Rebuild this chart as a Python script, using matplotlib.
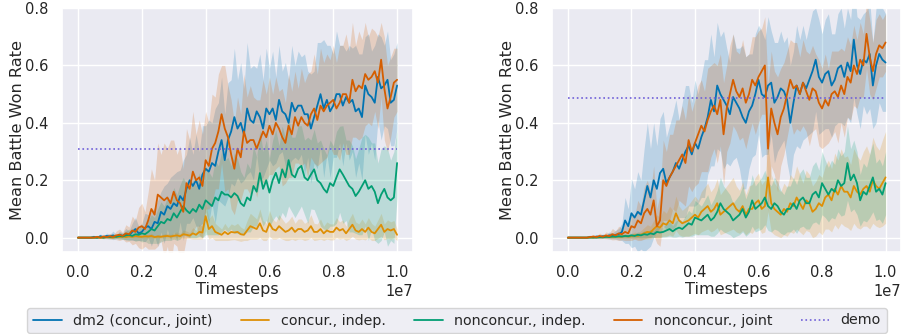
import matplotlib
matplotlib.use("Agg")
import matplotlib.pyplot as plt
import numpy as np
import seaborn as sns

# x grid: 101 evaluation points from 0 to 1e7 timesteps
steps = np.linspace(0, 1e7, 101)

labels = ["dm2 (concur., joint)", "concur., indep.", "nonconcur., indep.", "nonconcur., joint"]

# ---- left panel ----
left_dm2 = [0, 0, 0, 0, 0, 0.003, 0.0, 0.005, 0.002, 0.006,
            0.004, 0.008, 0.003, 0.01, 0.006, 0.012, 0.008, 0.02, 0.03, 0.015,
            0.02, 0.035, 0.04, 0.03, 0.055, 0.05, 0.09, 0.08, 0.11, 0.1,
            0.12, 0.11, 0.145, 0.13, 0.17, 0.2, 0.18, 0.2, 0.17, 0.22,
            0.24, 0.23, 0.26, 0.25, 0.3, 0.34, 0.27, 0.34, 0.37, 0.42,
            0.38, 0.4, 0.36, 0.45, 0.41, 0.4, 0.44, 0.42, 0.38, 0.45,
            0.43, 0.45, 0.41, 0.48, 0.44, 0.43, 0.4, 0.47, 0.44, 0.46,
            0.46, 0.43, 0.43, 0.38, 0.42, 0.46, 0.5, 0.45, 0.48, 0.44,
            0.46, 0.5, 0.5, 0.46, 0.49, 0.47, 0.48, 0.44, 0.45, 0.42,
            0.53, 0.5, 0.49, 0.47, 0.56, 0.52, 0.53, 0.55, 0.47, 0.48,
            0.53]
left_dm2_sd = [0, 0, 0, 0, 0, 0.002, 0.003, 0.008, 0.004, 0.01,
               0.008, 0.015, 0.006, 0.012, 0.01, 0.02, 0.015, 0.03, 0.04, 0.025,
               0.03, 0.05, 0.04, 0.06, 0.05, 0.08, 0.07, 0.1, 0.08, 0.11,
               0.1, 0.12, 0.09, 0.14, 0.12, 0.15, 0.11, 0.16, 0.13, 0.17,
               0.15, 0.18, 0.14, 0.2, 0.17, 0.22, 0.16, 0.2, 0.18, 0.24,
               0.17, 0.21, 0.16, 0.23, 0.18, 0.2, 0.15, 0.22, 0.17, 0.21,
               0.16, 0.2, 0.15, 0.19, 0.14, 0.18, 0.15, 0.2, 0.16, 0.19,
               0.17, 0.21, 0.15, 0.19, 0.16, 0.22, 0.18, 0.24, 0.19, 0.23,
               0.18, 0.22, 0.17, 0.21, 0.16, 0.2, 0.18, 0.23, 0.19, 0.22,
               0.17, 0.21, 0.16, 0.2, 0.15, 0.18, 0.14, 0.17, 0.15, 0.16,
               0.15]
left_ci = [0, 0, 0, 0, 0, 0, 0, 0, 0, 0.002,
           0.001, 0, 0.003, 0.002, 0.004, 0.002, 0.005, 0.003, 0.006, 0.004,
           0.003, 0.005, 0.004, 0.006, 0.002, 0.004, 0.003, 0.005, 0.006, 0.004,
           0.006, 0.008, 0.005, 0.012, 0.01, 0.007, 0.015, 0.01, 0.02, 0.018,
           0.075, 0.03, 0.04, 0.02, 0.015, 0.01, 0.02, 0.012, 0.02, 0.018,
           0.02, 0.012, 0.01, 0.025, 0.04, 0.035, 0.03, 0.05, 0.025, 0.02,
           0.05, 0.03, 0.025, 0.04, 0.03, 0.02, 0.025, 0.035, 0.02, 0.03,
           0.03, 0.02, 0.025, 0.04, 0.02, 0.02, 0.03, 0.015, 0.025, 0.02,
           0.02, 0.035, 0.025, 0.03, 0.015, 0.03, 0.045, 0.025, 0.02, 0.03,
           0.02, 0.035, 0.02, 0.015, 0.03, 0.045, 0.02, 0.03, 0.025, 0.03,
           0.01]
left_ci_sd = [0, 0, 0, 0, 0, 0, 0, 0, 0, 0.003,
              0.002, 0.001, 0.004, 0.003, 0.005, 0.004, 0.006, 0.005, 0.008, 0.006,
              0.005, 0.008, 0.006, 0.009, 0.005, 0.007, 0.006, 0.008, 0.01, 0.007,
              0.01, 0.012, 0.009, 0.015, 0.013, 0.01, 0.02, 0.015, 0.025, 0.022,
              0.05, 0.035, 0.04, 0.03, 0.025, 0.02, 0.03, 0.022, 0.028, 0.025,
              0.03, 0.025, 0.02, 0.035, 0.045, 0.04, 0.035, 0.05, 0.035, 0.03,
              0.045, 0.035, 0.03, 0.04, 0.035, 0.03, 0.035, 0.04, 0.03, 0.035,
              0.035, 0.03, 0.032, 0.04, 0.03, 0.028, 0.035, 0.025, 0.03, 0.028,
              0.028, 0.035, 0.03, 0.032, 0.025, 0.035, 0.04, 0.03, 0.028, 0.035,
              0.028, 0.035, 0.03, 0.025, 0.032, 0.04, 0.028, 0.032, 0.03, 0.03,
              0.02]
left_nci = [0, 0, 0, 0, 0, 0, 0, 0.002, 0, 0.003,
            0.002, 0.004, 0.003, 0.006, 0.004, 0.008, 0.01, 0.006, 0.012, 0.01,
            0.015, 0.012, 0.02, 0.03, 0.025, 0.04, 0.055, 0.05, 0.065, 0.06,
            0.085, 0.07, 0.09, 0.11, 0.095, 0.085, 0.1, 0.09, 0.115, 0.1,
            0.13, 0.12, 0.11, 0.14, 0.13, 0.16, 0.15, 0.15, 0.14, 0.155,
            0.145, 0.12, 0.11, 0.14, 0.13, 0.18, 0.16, 0.225, 0.17, 0.2,
            0.157, 0.2, 0.226, 0.19, 0.238, 0.21, 0.27, 0.22, 0.21, 0.24,
            0.25, 0.21, 0.2, 0.22, 0.238, 0.2, 0.19, 0.17, 0.157, 0.19,
            0.18, 0.21, 0.238, 0.22, 0.2, 0.18, 0.17, 0.145, 0.16, 0.18,
            0.2, 0.17, 0.18, 0.16, 0.12, 0.15, 0.17, 0.14, 0.13, 0.14,
            0.26]
left_nci_sd = [0, 0, 0, 0, 0, 0, 0, 0.003, 0.002, 0.006,
               0.004, 0.008, 0.006, 0.012, 0.01, 0.015, 0.02, 0.012, 0.025, 0.02,
               0.03, 0.025, 0.04, 0.05, 0.045, 0.06, 0.07, 0.06, 0.075, 0.07,
               0.09, 0.08, 0.095, 0.1, 0.09, 0.085, 0.1, 0.09, 0.11, 0.1,
               0.12, 0.11, 0.1, 0.13, 0.12, 0.14, 0.12, 0.13, 0.11, 0.14,
               0.13, 0.11, 0.1, 0.12, 0.11, 0.14, 0.12, 0.15, 0.13, 0.14,
               0.12, 0.14, 0.15, 0.13, 0.15, 0.14, 0.16, 0.13, 0.14, 0.15,
               0.14, 0.13, 0.15, 0.12, 0.14, 0.13, 0.15, 0.14, 0.13, 0.15,
               0.14, 0.16, 0.15, 0.17, 0.14, 0.16, 0.15, 0.13, 0.15, 0.17,
               0.16, 0.18, 0.15, 0.17, 0.14, 0.16, 0.15, 0.17, 0.14, 0.16,
               0.12]
left_ncj = [0, 0, 0, 0, 0, 0, 0.003, 0, 0.004, 0.002,
            0.005, 0.003, 0.008, 0.01, 0.006, 0.015, 0.012, 0.025, 0.02, 0.035,
            0.04, 0.03, 0.06, 0.1, 0.08, 0.15, 0.14, 0.13, 0.14, 0.12,
            0.16, 0.13, 0.12, 0.09, 0.19, 0.17, 0.23, 0.2, 0.21, 0.18,
            0.27, 0.25, 0.31, 0.33, 0.37, 0.43, 0.38, 0.35, 0.29, 0.24,
            0.31, 0.28, 0.37, 0.33, 0.34, 0.34, 0.31, 0.34, 0.37, 0.35,
            0.39, 0.36, 0.4, 0.38, 0.35, 0.33, 0.39, 0.36, 0.42, 0.39,
            0.42, 0.4, 0.39, 0.43, 0.45, 0.41, 0.46, 0.44, 0.46, 0.47,
            0.48, 0.45, 0.47, 0.5, 0.5, 0.47, 0.55, 0.51, 0.53, 0.52,
            0.57, 0.55, 0.56, 0.58, 0.54, 0.62, 0.52, 0.45, 0.49, 0.54,
            0.55]
left_ncj_sd = [0, 0, 0, 0, 0, 0, 0.004, 0.002, 0.008, 0.005,
               0.01, 0.006, 0.015, 0.02, 0.012, 0.03, 0.025, 0.05, 0.04, 0.07,
               0.08, 0.06, 0.1, 0.14, 0.12, 0.18, 0.15, 0.2, 0.17, 0.22,
               0.18, 0.16, 0.2, 0.15, 0.19, 0.17, 0.21, 0.16, 0.2, 0.18,
               0.17, 0.15, 0.19, 0.16, 0.2, 0.17, 0.22, 0.18, 0.19, 0.16,
               0.18, 0.15, 0.2, 0.16, 0.19, 0.15, 0.17, 0.14, 0.18, 0.15,
               0.17, 0.14, 0.16, 0.13, 0.17, 0.14, 0.18, 0.15, 0.16, 0.13,
               0.17, 0.14, 0.18, 0.15, 0.19, 0.16, 0.2, 0.17, 0.18, 0.15,
               0.19, 0.16, 0.2, 0.17, 0.21, 0.18, 0.2, 0.16, 0.19, 0.17,
               0.18, 0.15, 0.17, 0.14, 0.16, 0.13, 0.18, 0.15, 0.14, 0.12,
               0.11]
left_demo = 0.31

# ---- right panel ----
right_dm2 = [0, 0, 0, 0, 0, 0, 0, 0.003, 0.001, 0.004,
             0.002, 0.005, 0.003, 0.008, 0.006, 0.01, 0.012, 0.02, 0.06, 0.04,
             0.085, 0.07, 0.09, 0.08, 0.13, 0.18, 0.14, 0.2, 0.17, 0.225,
             0.24, 0.19, 0.21, 0.23, 0.26, 0.24, 0.27, 0.3, 0.32, 0.29,
             0.33, 0.31, 0.35, 0.38, 0.42, 0.48, 0.44, 0.53, 0.5, 0.48,
             0.46, 0.43, 0.49, 0.47, 0.45, 0.42, 0.4, 0.44, 0.46, 0.5,
             0.55, 0.5, 0.49, 0.53, 0.54, 0.47, 0.49, 0.52, 0.51, 0.48,
             0.4, 0.47, 0.53, 0.5, 0.54, 0.52, 0.55, 0.58, 0.62, 0.56,
             0.54, 0.57, 0.58, 0.53, 0.55, 0.59, 0.6, 0.56, 0.61, 0.58,
             0.69, 0.6, 0.57, 0.62, 0.61, 0.64, 0.53, 0.6, 0.64, 0.62,
             0.61]
right_dm2_sd = [0, 0, 0, 0, 0, 0, 0, 0.004, 0.003, 0.006,
                0.005, 0.008, 0.006, 0.012, 0.01, 0.015, 0.02, 0.03, 0.08, 0.06,
                0.12, 0.1, 0.14, 0.12, 0.18, 0.22, 0.17, 0.2, 0.15, 0.19,
                0.2, 0.16, 0.18, 0.2, 0.22, 0.17, 0.2, 0.23, 0.21, 0.18,
                0.22, 0.19, 0.21, 0.24, 0.2, 0.23, 0.19, 0.22, 0.2, 0.24,
                0.2, 0.18, 0.22, 0.19, 0.21, 0.25, 0.23, 0.2, 0.18, 0.21,
                0.19, 0.22, 0.2, 0.24, 0.18, 0.21, 0.19, 0.2, 0.17, 0.22,
                0.2, 0.18, 0.21, 0.19, 0.2, 0.17, 0.19, 0.21, 0.18, 0.2,
                0.17, 0.19, 0.2, 0.18, 0.16, 0.19, 0.2, 0.17, 0.19, 0.18,
                0.2, 0.17, 0.19, 0.16, 0.18, 0.19, 0.15, 0.2, 0.17, 0.18,
                0.17]
right_ci = [0, 0, 0, 0, 0, 0, 0, 0.001, 0, 0.002,
            0.001, 0.003, 0.002, 0.004, 0.002, 0.005, 0.003, 0.004, 0.006, 0.004,
            0.005, 0.008, 0.006, 0.01, 0.015, 0.02, 0.018, 0.03, 0.04, 0.035,
            0.05, 0.045, 0.06, 0.05, 0.085, 0.06, 0.05, 0.055, 0.06, 0.07,
            0.08, 0.07, 0.09, 0.1, 0.11, 0.09, 0.1, 0.12, 0.08, 0.09,
            0.1, 0.11, 0.12, 0.1, 0.09, 0.11, 0.08, 0.1, 0.1, 0.12,
            0.13, 0.1, 0.11, 0.21, 0.12, 0.1, 0.09, 0.08, 0.1, 0.09,
            0.12, 0.11, 0.14, 0.12, 0.1, 0.13, 0.12, 0.09, 0.1, 0.12,
            0.11, 0.14, 0.15, 0.13, 0.17, 0.15, 0.18, 0.16, 0.16, 0.14,
            0.18, 0.16, 0.15, 0.17, 0.18, 0.16, 0.2, 0.18, 0.17, 0.19,
            0.21]
right_ci_sd = [0, 0, 0, 0, 0, 0, 0, 0.002, 0, 0.003,
               0.002, 0.004, 0.003, 0.005, 0.004, 0.006, 0.005, 0.006, 0.008, 0.006,
               0.008, 0.012, 0.01, 0.015, 0.02, 0.025, 0.022, 0.03, 0.04, 0.035,
               0.045, 0.04, 0.05, 0.045, 0.06, 0.05, 0.045, 0.05, 0.055, 0.06,
               0.065, 0.06, 0.07, 0.075, 0.08, 0.07, 0.075, 0.085, 0.07, 0.075,
               0.08, 0.085, 0.09, 0.08, 0.075, 0.085, 0.07, 0.08, 0.085, 0.09,
               0.095, 0.085, 0.09, 0.12, 0.1, 0.09, 0.085, 0.08, 0.09, 0.085,
               0.1, 0.095, 0.11, 0.1, 0.09, 0.105, 0.1, 0.09, 0.095, 0.1,
               0.1, 0.11, 0.12, 0.11, 0.125, 0.12, 0.13, 0.12, 0.125, 0.115,
               0.13, 0.125, 0.12, 0.13, 0.14, 0.13, 0.15, 0.14, 0.135, 0.15,
               0.16]
right_nci = [0, 0, 0, 0, 0, 0, 0, 0, 0.001, 0,
             0.002, 0.001, 0.003, 0.002, 0.004, 0.003, 0.005, 0.004, 0.006, 0.005,
             0.008, 0.006, 0.01, 0.008, 0.012, 0.01, 0.015, 0.012, 0.02, 0.018,
             0.02, 0.025, 0.03, 0.022, 0.03, 0.035, 0.03, 0.04, 0.05, 0.045,
             0.07, 0.065, 0.06, 0.07, 0.08, 0.06, 0.07, 0.09, 0.12, 0.1,
             0.09, 0.08, 0.06, 0.07, 0.08, 0.1, 0.07, 0.09, 0.13, 0.1,
             0.11, 0.12, 0.14, 0.11, 0.1, 0.12, 0.11, 0.09, 0.08, 0.1,
             0.1, 0.12, 0.1, 0.13, 0.14, 0.12, 0.12, 0.15, 0.16, 0.14,
             0.19, 0.17, 0.15, 0.17, 0.16, 0.2, 0.18, 0.19, 0.26, 0.2,
             0.22, 0.19, 0.13, 0.16, 0.15, 0.18, 0.21, 0.16, 0.17, 0.15,
             0.19]
right_nci_sd = [0, 0, 0, 0, 0, 0, 0, 0, 0.002, 0.001,
                0.003, 0.002, 0.004, 0.003, 0.005, 0.004, 0.006, 0.005, 0.007, 0.006,
                0.008, 0.007, 0.01, 0.009, 0.012, 0.011, 0.014, 0.012, 0.018, 0.016,
                0.018, 0.022, 0.025, 0.02, 0.028, 0.03, 0.028, 0.035, 0.045, 0.04,
                0.06, 0.055, 0.05, 0.06, 0.07, 0.055, 0.065, 0.075, 0.09, 0.08,
                0.075, 0.07, 0.06, 0.065, 0.07, 0.08, 0.065, 0.075, 0.09, 0.08,
                0.085, 0.09, 0.095, 0.085, 0.08, 0.09, 0.085, 0.075, 0.07, 0.08,
                0.08, 0.09, 0.085, 0.095, 0.1, 0.09, 0.09, 0.1, 0.105, 0.095,
                0.11, 0.1, 0.095, 0.1, 0.095, 0.11, 0.105, 0.11, 0.13, 0.11,
                0.12, 0.11, 0.09, 0.1, 0.095, 0.11, 0.12, 0.1, 0.105, 0.1,
                0.11]
right_ncj = [0, 0, 0, 0, 0, 0, 0, 0.002, 0.004, 0.002,
             0.006, 0.003, 0.008, 0.005, 0.012, 0.008, 0.015, 0.012, 0.02, 0.015,
             0.04, 0.035, 0.06, 0.05, 0.085, 0.1, 0.08, 0.13, 0.04, 0.06,
             0.2, 0.18, 0.21, 0.23, 0.25, 0.27, 0.29, 0.26, 0.34, 0.3,
             0.33, 0.36, 0.39, 0.37, 0.41, 0.44, 0.46, 0.43, 0.48, 0.36,
             0.45, 0.5, 0.55, 0.51, 0.49, 0.52, 0.47, 0.5, 0.55, 0.53,
             0.56, 0.58, 0.6, 0.31, 0.45, 0.4, 0.36, 0.42, 0.45, 0.5,
             0.55, 0.52, 0.53, 0.5, 0.54, 0.51, 0.48, 0.52, 0.51, 0.47,
             0.45, 0.48, 0.46, 0.5, 0.51, 0.49, 0.53, 0.5, 0.56, 0.54,
             0.6, 0.57, 0.62, 0.6, 0.71, 0.63, 0.58, 0.64, 0.67, 0.66,
             0.68]
right_ncj_sd = [0, 0, 0, 0, 0, 0, 0, 0.003, 0.006, 0.004,
                0.01, 0.006, 0.012, 0.01, 0.02, 0.015, 0.025, 0.02, 0.03, 0.025,
                0.05, 0.04, 0.07, 0.06, 0.09, 0.1, 0.08, 0.12, 0.06, 0.09,
                0.14, 0.12, 0.15, 0.13, 0.16, 0.14, 0.17, 0.15, 0.16, 0.14,
                0.15, 0.17, 0.16, 0.14, 0.18, 0.16, 0.15, 0.17, 0.16, 0.18,
                0.15, 0.17, 0.16, 0.14, 0.15, 0.17, 0.16, 0.14, 0.15, 0.17,
                0.16, 0.15, 0.17, 0.22, 0.2, 0.18, 0.2, 0.17, 0.16, 0.15,
                0.14, 0.16, 0.15, 0.13, 0.15, 0.14, 0.16, 0.15, 0.13, 0.15,
                0.14, 0.16, 0.13, 0.15, 0.14, 0.16, 0.13, 0.15, 0.14, 0.13,
                0.14, 0.12, 0.13, 0.11, 0.12, 0.13, 0.1, 0.12, 0.11, 0.1,
                0.1]
right_demo = 0.485

sns.set_theme(style="darkgrid")
palette = sns.color_palette("colorblind")
colors = [palette[0], palette[1], palette[2], palette[3]]
demo_color = "#6f5fd8"

fig = plt.figure(figsize=(9.03, 3.34), dpi=100)
ax_left = fig.add_axes([0.0687, 0.2455, 0.3887, 0.7305])
ax_right = fig.add_axes([0.6113, 0.2455, 0.3870, 0.7305])

panels = [
    (ax_left, [left_dm2, left_ci, left_nci, left_ncj],
     [left_dm2_sd, left_ci_sd, left_nci_sd, left_ncj_sd], left_demo),
    (ax_right, [right_dm2, right_ci, right_nci, right_ncj],
     [right_dm2_sd, right_ci_sd, right_nci_sd, right_ncj_sd], right_demo),
]

for ax, means, sds, demo in panels:
    for mean, sd, color, label in zip(means, sds, colors, labels):
        mean = np.array(mean)
        sd = np.array(sd)
        ax.fill_between(steps, mean - sd, mean + sd, color=color, alpha=0.2, linewidth=0)
        ax.plot(steps, mean, color=color, lw=1.3, label=label)
    ax.plot([steps[0], steps[-1]], [demo, demo], color=demo_color, lw=1.2,
            linestyle=":", label="demo")
    ax.set_ylim(-0.05, 0.8)
    ax.set_yticks([0.0, 0.2, 0.4, 0.6, 0.8])
    ax.set_xlabel("Timesteps", fontsize=11.6, labelpad=1)
    ax.set_ylabel("Mean Battle Won Rate", fontsize=11.6, labelpad=0.5)
    ax.tick_params(labelsize=10.5)
    ax.xaxis.get_offset_text().set_fontsize(10.5)

handles, leg_labels = ax_left.get_legend_handles_labels()
fig.legend(handles, leg_labels, loc="center", ncol=5, fontsize=10.25,
           bbox_to_anchor=(457 / 903, 1 - 320.5 / 334))

fig.savefig("out.png", dpi=100)
